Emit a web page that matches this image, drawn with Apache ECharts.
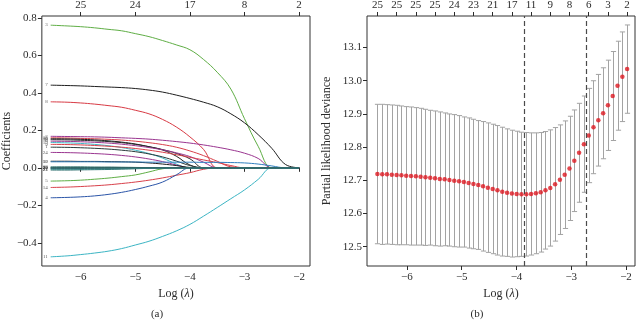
<!DOCTYPE html>
<html>
<head>
<meta charset="utf-8">
<script src="https://cdn.jsdelivr.net/npm/echarts/dist/echarts.min.js"></script>
<style>
  html, body { margin: 0; padding: 0; background: #fff; }
  #chart { width: 637px; height: 320px; }
</style>
</head>
<body>
<div id="chart"></div>
<script>
// ---- (a) lasso coefficient paths, read on a common log(lambda) grid ----
const pathGrid = [-6.55, -6.25, -6, -5.75, -5.5, -5.25, -5, -4.75, -4.5, -4.25, -4, -3.75, -3.5, -3.25, -3, -2.75, -2.5, -2.25, -2];
const coefLabels = ['3', '7', '8', '2', '15', '16', '18', '19', '6', '9', '1', '24', '12', '10', '5', '14', '4', '11', '13', '17', '20', '21', '22', '23', '25'];
const coefValues = [
  [0.761, 0.757, 0.753, 0.747, 0.739, 0.731, 0.716, 0.700, 0.679, 0.656, 0.630, 0.578, 0.510, 0.420, 0.262, 0.115, 0, 0, 0],
  [0.441, 0.439, 0.437, 0.434, 0.431, 0.428, 0.423, 0.415, 0.404, 0.388, 0.370, 0.350, 0.326, 0.288, 0.240, 0.177, 0.104, 0.018, 0],
  [0.352, 0.350, 0.346, 0.340, 0.332, 0.323, 0.307, 0.288, 0.258, 0.218, 0.165, 0.098, 0, 0, 0, 0, 0, 0, 0],
  [0.168, 0.167, 0.166, 0.165, 0.163, 0.160, 0.157, 0.153, 0.147, 0.140, 0.132, 0.122, 0.110, 0.096, 0.078, 0.050, 0, 0, 0],
  [0.160, 0.159, 0.157, 0.155, 0.152, 0.148, 0.142, 0.134, 0.124, 0.110, 0.090, 0.065, 0.035, 0.005, 0, 0, 0, 0, 0],
  [0.155, 0.154, 0.152, 0.149, 0.144, 0.137, 0.127, 0.112, 0.095, 0.062, 0.015, 0, 0, 0, 0, 0, 0, 0, 0],
  [0.150, 0.149, 0.147, 0.144, 0.140, 0.134, 0.125, 0.113, 0.097, 0.077, 0.048, 0, 0, 0, 0, 0, 0, 0, 0],
  [0.135, 0.133, 0.130, 0.125, 0.118, 0.108, 0.094, 0.076, 0.052, 0.020, 0, 0, 0, 0, 0, 0, 0, 0, 0],
  [0.142, 0.141, 0.139, 0.136, 0.132, 0.126, 0.118, 0.108, 0.096, 0.080, 0.060, 0.030, 0, 0, 0, 0, 0, 0, 0],
  [0.125, 0.124, 0.122, 0.119, 0.115, 0.110, 0.103, 0.094, 0.083, 0.070, 0.056, 0.042, 0.028, 0.012, 0, 0, 0, 0, 0],
  [0.110, 0.109, 0.107, 0.104, 0.100, 0.094, 0.086, 0.074, 0.058, 0.036, 0.012, 0, 0, 0, 0, 0, 0, 0, 0],
  [0.082, 0.081, 0.079, 0.076, 0.072, 0.066, 0.058, 0.047, 0.033, 0.015, 0, 0, 0, 0, 0, 0, 0, 0, 0],
  [0.035, 0.035, 0.034, 0.034, 0.033, 0.032, 0.030, 0.026, 0.020, 0.012, 0.002, 0, 0, 0, 0, 0, 0, 0, 0],
  [0.032, 0.032, 0.032, 0.032, 0.031, 0.031, 0.031, 0.030, 0.030, 0.030, 0.030, 0.029, 0.029, 0.028, 0.026, 0.020, 0.010, 0, 0],
  [-0.071, -0.069, -0.066, -0.061, -0.055, -0.047, -0.038, -0.022, -0.005, 0, 0, 0, 0, 0, 0, 0, 0, 0, 0],
  [-0.105, -0.103, -0.100, -0.096, -0.091, -0.084, -0.076, -0.066, -0.054, -0.040, -0.026, -0.008, 0, 0, 0, 0, 0, 0, 0],
  [-0.160, -0.158, -0.155, -0.150, -0.142, -0.131, -0.116, -0.098, -0.076, -0.038, 0, 0, 0, 0, 0, 0, 0, 0, 0],
  [-0.475, -0.470, -0.463, -0.455, -0.445, -0.431, -0.412, -0.392, -0.366, -0.337, -0.302, -0.258, -0.212, -0.165, -0.118, -0.062, 0, 0, 0],
  [0.005, 0.005, 0.005, 0.004, 0.004, 0.003, 0.002, 0.001, 0, 0, 0, 0, 0, 0, 0, 0, 0, 0, 0],
  [-0.004, -0.004, -0.004, -0.003, -0.003, -0.002, -0.002, -0.001, 0, 0, 0, 0, 0, 0, 0, 0, 0, 0, 0],
  [0.002, 0.002, 0.002, 0.002, 0.001, 0.001, 0.001, 0, 0, 0, 0, 0, 0, 0, 0, 0, 0, 0, 0],
  [-0.012, -0.012, -0.011, -0.010, -0.009, -0.007, -0.005, -0.003, -0.001, 0, 0, 0, 0, 0, 0, 0, 0, 0, 0],
  [-0.002, -0.002, -0.002, -0.002, -0.001, -0.001, -0.001, 0, 0, 0, 0, 0, 0, 0, 0, 0, 0, 0, 0],
  [-0.008, -0.008, -0.008, -0.007, -0.006, -0.005, -0.004, -0.002, 0, 0, 0, 0, 0, 0, 0, 0, 0, 0, 0],
  [0.000, 0.000, 0.000, 0.000, 0.000, 0, 0, 0, 0, 0, 0, 0, 0, 0, 0, 0, 0, 0, 0],
];
const coefTicks = [-0.4, -0.2, 0, 0.2, 0.4, 0.6, 0.8];
const coefTopTicks = [-6, -5, -4, -3, -2];
const coefTopLabels = ['25', '24', '17', '8', '2'];

// ---- (b) cross-validated partial likelihood deviance ----
const logLambda = [
  -6.540, -6.452, -6.365, -6.277, -6.189, -6.102, -6.014, -5.926, -5.838, -5.751,
  -5.663, -5.575, -5.488, -5.400, -5.312, -5.225, -5.137, -5.049, -4.961, -4.874,
  -4.786, -4.698, -4.611, -4.523, -4.435, -4.348, -4.260, -4.172, -4.084, -3.997,
  -3.909, -3.821, -3.734, -3.646, -3.558, -3.471, -3.383, -3.295, -3.207, -3.120,
  -3.032, -2.944, -2.857, -2.769, -2.681, -2.594, -2.506, -2.418, -2.330, -2.243,
  -2.155, -2.067, -1.980,
];
const cvm = [
  12.719, 12.718, 12.718, 12.717, 12.716, 12.715, 12.714, 12.713, 12.712, 12.711,
  12.709, 12.708, 12.706, 12.704, 12.703, 12.701, 12.699, 12.697, 12.695, 12.692,
  12.689, 12.686, 12.682, 12.678, 12.674, 12.670, 12.666, 12.663, 12.660, 12.659,
  12.658, 12.658, 12.659, 12.661, 12.664, 12.670, 12.677, 12.688, 12.702, 12.717,
  12.736, 12.759, 12.783, 12.809, 12.835, 12.860, 12.881, 12.902, 12.926, 12.954,
  12.985, 13.012, 13.035,
];
const cvsd = [
  0.210, 0.211, 0.210, 0.210, 0.210, 0.209, 0.208, 0.208, 0.207, 0.206,
  0.205, 0.203, 0.203, 0.202, 0.200, 0.199, 0.199, 0.198, 0.196, 0.196,
  0.195, 0.194, 0.195, 0.195, 0.195, 0.195, 0.194, 0.192, 0.191, 0.189,
  0.187, 0.186, 0.184, 0.182, 0.180, 0.177, 0.175, 0.171, 0.165, 0.162,
  0.157, 0.153, 0.149, 0.145, 0.142, 0.140, 0.138, 0.137, 0.136, 0.134,
  0.134, 0.135, 0.133,
];
const nzeroIdx = [0, 4, 8, 12, 16, 20, 24, 28, 32, 36, 40, 44, 48, 52];
const nzeroLabels = ['25', '25', '25', '25', '24', '23', '21', '17', '11', '9', '8', '6', '3', '2'];
const devTicks = [12.5, 12.6, 12.7, 12.8, 12.9, 13.0, 13.1];
const lambdaCuts = [-3.85, -2.73];
const xTicks = [-6, -5, -4, -3, -2];

// styles
const FONT = 'Liberation Serif';
const INK = '#2b2b2b';
const pathColors = [
  '#5fae45', '#1e1e1e', '#d83a44', '#9a3590', '#d8404a', '#1e1e1e', '#2a2a2a', '#3cb5c4', '#9a3590',
  '#d8404a', '#2a3a3a', '#9a3590', '#1e1e1e', '#2f7fc0', '#5fae45', '#d8404a', '#2b55a8', '#3cb5c4',
  '#2f6f6f', '#2f5f5f', '#3d7a6a', '#2f6f6f', '#2f6a7a', '#3a8a8a', '#2f6060',
];

const minus = (s) => s.replace('-', '\u2212');

const chart = echarts.init(document.getElementById('chart'), null, { renderer: 'canvas' });

function bottomAxis(gridIndex, min, max) {
  return {
    type: 'value', gridIndex, position: 'bottom', min, max,
    splitLine: { show: false },
    axisLine: { show: false },
    axisTick: { show: true, inside: false, length: 4, customValues: xTicks, lineStyle: { color: INK } },
    axisLabel: {
      customValues: xTicks, margin: 6, color: INK, fontFamily: FONT, fontSize: 11,
      formatter: (v) => minus(String(Math.round(v))),
    },
    name: 'Log ({i|λ})', nameLocation: 'middle', nameGap: 22,
    nameTextStyle: {
      color: INK, fontFamily: FONT, fontSize: 12,
      rich: { i: { fontStyle: 'italic', fontFamily: FONT, fontSize: 12, color: INK } },
    },
  };
}

function topAxis(gridIndex, min, max, ticks, labels) {
  return {
    type: 'value', gridIndex, position: 'top', min, max,
    splitLine: { show: false },
    axisLine: { show: false },
    axisTick: { show: true, inside: false, length: 4, customValues: ticks, lineStyle: { color: INK } },
    axisLabel: {
      customValues: ticks, margin: 5, color: INK, fontFamily: FONT, fontSize: 11,
      formatter: (v) => {
        let best = 0;
        ticks.forEach((t, i) => { if (Math.abs(t - v) < Math.abs(ticks[best] - v)) best = i; });
        return labels[best];
      },
    },
  };
}

function renderErrorBar(params, api) {
  const x = api.value(0);
  const top = api.coord([x, api.value(2)]);
  const bot = api.coord([x, api.value(1)]);
  const px = Math.round(top[0]) + 0.5;
  const half = 2.6;
  const st = { stroke: '#a3a3a3', lineWidth: 1 };
  return {
    type: 'group',
    children: [
      { type: 'line', shape: { x1: px, y1: top[1], x2: px, y2: bot[1] }, style: st },
      { type: 'line', shape: { x1: px - half, y1: top[1], x2: px + half, y2: top[1] }, style: st },
      { type: 'line', shape: { x1: px - half, y1: bot[1], x2: px + half, y2: bot[1] }, style: st },
    ],
  };
}

const pathSeries = coefValues.map((vals, i) => ({
  type: 'line',
  name: coefLabels[i],
  xAxisIndex: 0, yAxisIndex: 0,
  data: vals.map((v, j) => [pathGrid[j], v]),
  showSymbol: false,
  smooth: 0.4,
  lineStyle: { color: pathColors[i], width: 1 },
  silent: true,
  z: 2,
}));

const option = {
  animation: false,
  backgroundColor: '#fff',
  textStyle: { fontFamily: FONT },
  grid: [
    { left: 41, right: 327, top: 16, bottom: 54, show: true, borderColor: '#333', borderWidth: 1, backgroundColor: 'transparent' },
    { left: 367, right: 2, top: 16, bottom: 54, show: true, borderColor: '#333', borderWidth: 1, backgroundColor: 'transparent' },
  ],
  xAxis: [
    bottomAxis(0, -6.712, -1.8),
    topAxis(0, -6.712, -1.8, coefTopTicks, coefTopLabels),
    bottomAxis(1, -6.73, -1.836),
    topAxis(1, -6.73, -1.836, nzeroIdx.map((k) => logLambda[k]), nzeroLabels),
  ],
  yAxis: [
    {
      type: 'value', gridIndex: 0, min: -0.524, max: 0.81,
      splitLine: { show: false }, axisLine: { show: false },
      axisTick: { show: true, length: 4, customValues: coefTicks, lineStyle: { color: INK } },
      axisLabel: {
        customValues: coefTicks, margin: 5, color: INK, fontFamily: FONT, fontSize: 11,
        formatter: (v) => minus(v.toFixed(1)),
      },
      name: 'Coefficients', nameLocation: 'middle', nameGap: 28, nameRotate: 90,
      nameTextStyle: { color: INK, fontFamily: FONT, fontSize: 12 },
    },
    {
      type: 'value', gridIndex: 1, min: 12.442, max: 13.195,
      splitLine: { show: false }, axisLine: { show: false },
      axisTick: { show: true, length: 4, customValues: devTicks, lineStyle: { color: INK } },
      axisLabel: {
        customValues: devTicks, margin: 5, color: INK, fontFamily: FONT, fontSize: 11,
        formatter: (v) => v.toFixed(1),
      },
      name: 'Partial likelihood deviance', nameLocation: 'middle', nameGap: 34, nameRotate: 90,
      nameTextStyle: { color: INK, fontFamily: FONT, fontSize: 12 },
    },
  ],
  series: [
    ...pathSeries,
    {
      type: 'scatter',
      name: 'path labels',
      xAxisIndex: 0, yAxisIndex: 0,
      data: coefValues.map((vals) => [pathGrid[0], vals[0]]),
      symbolSize: 0,
      silent: true,
      label: {
        show: true, position: 'left', distance: 3,
        formatter: (p) => coefLabels[p.dataIndex],
        fontSize: 5, color: '#333', fontFamily: FONT,
      },
      z: 3,
    },
    {
      type: 'custom',
      name: 'cv error',
      xAxisIndex: 2, yAxisIndex: 1,
      data: logLambda.map((x, i) => [x, cvm[i] - cvsd[i], cvm[i] + cvsd[i]]),
      encode: { x: 0, y: [1, 2] },
      renderItem: renderErrorBar,
      silent: true,
      z: 2,
    },
    {
      type: 'scatter',
      name: 'cvm',
      xAxisIndex: 2, yAxisIndex: 1,
      data: logLambda.map((x, i) => [x, cvm[i]]),
      symbolSize: 4.5,
      itemStyle: { color: '#dd1820' },
      silent: true,
      z: 4,
      markLine: {
        silent: true,
        symbol: 'none',
        label: { show: false },
        lineStyle: { color: '#4a4a4a', type: [5, 3], width: 1.2 },
        data: lambdaCuts.map((x) => ({ xAxis: x })),
      },
    },
  ],
  graphic: [
    { type: 'text', x: 157, y: 314, style: { text: '(a)', font: '11px "Liberation Serif"', fill: INK, textAlign: 'center', textVerticalAlign: 'middle' } },
    { type: 'text', x: 477, y: 314, style: { text: '(b)', font: '11px "Liberation Serif"', fill: INK, textAlign: 'center', textVerticalAlign: 'middle' } },
  ],
};

chart.setOption(option);
</script>
</body>
</html>
